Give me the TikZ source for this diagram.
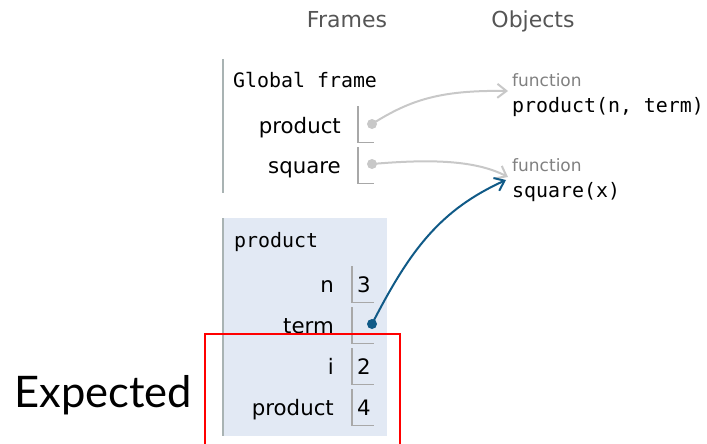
\documentclass[tikz,border=0pt]{standalone}
\usepackage{fontspec}
\setmainfont{DejaVu Sans}
\setmonofont{DejaVu Sans Mono}
\newfontfamily\expfont{Lato}
\usetikzlibrary{arrows.meta}
\definecolor{hdrgray}{HTML}{555555}
\definecolor{fngray}{HTML}{808080}
\definecolor{linegray}{HTML}{A8A8A8}
\definecolor{framegray}{HTML}{A9B3B3}
\definecolor{framefill}{HTML}{E2E9F4}
\definecolor{arrgray}{HTML}{C8C8C8}
\definecolor{refblue}{HTML}{105A87}
\tikzset{
  hdr/.style={font=\fontsize{22}{25}\selectfont, text=hdrgray, inner sep=0pt, anchor=base},
  monotxt/.style={font=\ttfamily\fontsize{19.9}{22}\selectfont, text=black, inner sep=0pt, anchor=base west},
  fntxt/.style={font=\fontsize{17}{20}\selectfont, text=fngray, inner sep=0pt, anchor=base west},
  varlbl/.style={font=\fontsize{21.3}{24}\selectfont, text=black, inner sep=0pt, anchor=base east},
  valtxt/.style={font=\fontsize{21.3}{24}\selectfont, text=black, inner sep=0pt, anchor=base},
  gcell/.style={minimum width=16pt, minimum height=36pt, inner sep=0pt, anchor=north west},
  fcell/.style={minimum width=22pt, minimum height=36pt, inner sep=0pt, anchor=north west},
  cellline/.style={draw=linegray, line width=1.3pt},
  gdot/.style={circle, fill=arrgray, minimum size=10pt, inner sep=0pt},
  bdot/.style={circle, fill=refblue, minimum size=10pt, inner sep=0pt},
  garrow/.style={draw=arrgray, line width=2pt, -{Straight Barb[length=9pt,width=14pt,line width=2pt]}},
  barrow/.style={draw=refblue, line width=2pt, -{Straight Barb[length=9pt,width=14pt,line width=2pt]}},
}
\begin{document}
\begin{tikzpicture}[x=1pt,y=-1pt]
\useasboundingbox (0,0) rectangle (707,444);
% headers
\node[hdr] (hframes) at (347,28) {Frames};
\node[hdr] (hobjects) at (533,28) {Objects};
% global frame
\draw[draw=framegray, line width=1.6pt] (223,59) -- (223,193);
\node[monotxt] (gtitle) at (233,88) {Global frame};
\node[varlbl] (gprodlbl) at (341,133) {product};
\node[varlbl] (gsqlbl) at (341,173) {square};
\node[gcell] (gprodcell) at (358,106) {};
\node[gcell] (gsqcell) at (358,147) {};
\draw[cellline] (gprodcell.north west) -- (gprodcell.south west) -- (gprodcell.south east);
\draw[cellline] (gsqcell.north west) -- (gsqcell.south west) -- (gsqcell.south east);
\node[gdot] (gproddot) at (372,124) {};
\node[gdot] (gsqdot) at (372,164) {};
% objects
\node[fntxt] (fn1) at (512,86) {function};
\node[monotxt] (obj1) at (512,112) {product(n, term)};
\node[fntxt] (fn2) at (512,171) {function};
\node[monotxt] (obj2) at (512,197) {square(x)};
\coordinate (t1) at (508,91);
\coordinate (t2) at (508,177);
\coordinate (t3) at (506,180);
% product frame
\fill[framefill] (222,218) rectangle (387,436);
\draw[draw=framegray, line width=1.6pt] (223,218) -- (223,436);
\node[monotxt] (ftitle) at (234,247) {product};
\node[varlbl] (nlbl) at (334,292) {n};
\node[varlbl] (termlbl) at (334,333) {term};
\node[varlbl] (ilbl) at (334,374) {i};
\node[varlbl] (plbl) at (334,415) {product};
\node[fcell] (ncell) at (352,266) {};
\node[fcell] (termcell) at (352,307) {};
\node[fcell] (icell) at (352,348) {};
\node[fcell] (pcell) at (352,389) {};
\foreach \c in {ncell,termcell,icell,pcell}{
  \draw[cellline] (\c.north west) -- (\c.south west) -- (\c.south east);
}
\node[valtxt] (nval) at (364,292) {3};
\node[valtxt] (ival) at (364,374) {2};
\node[valtxt] (pval) at (364,415) {4};
\node[bdot] (termdot) at (372,324) {};
% arrows
\draw[garrow] (gproddot.center) .. controls (410,100) and (440,90) .. (t1);
\draw[garrow] (gsqdot.center) .. controls (430,159) and (475,160) .. (t2);
\draw[barrow] (termdot.center) .. controls (410,250) and (440,210) .. (t3);
% highlight
\draw[red, line width=2.2pt] (205,450) -- (205,334) -- (400,334) -- (400,450);
\node[font=\expfont\fontsize{43.5}{48}\selectfont, inner sep=0pt, anchor=base west] (expected) at (14,407) {Expected};
\end{tikzpicture}
\end{document}
